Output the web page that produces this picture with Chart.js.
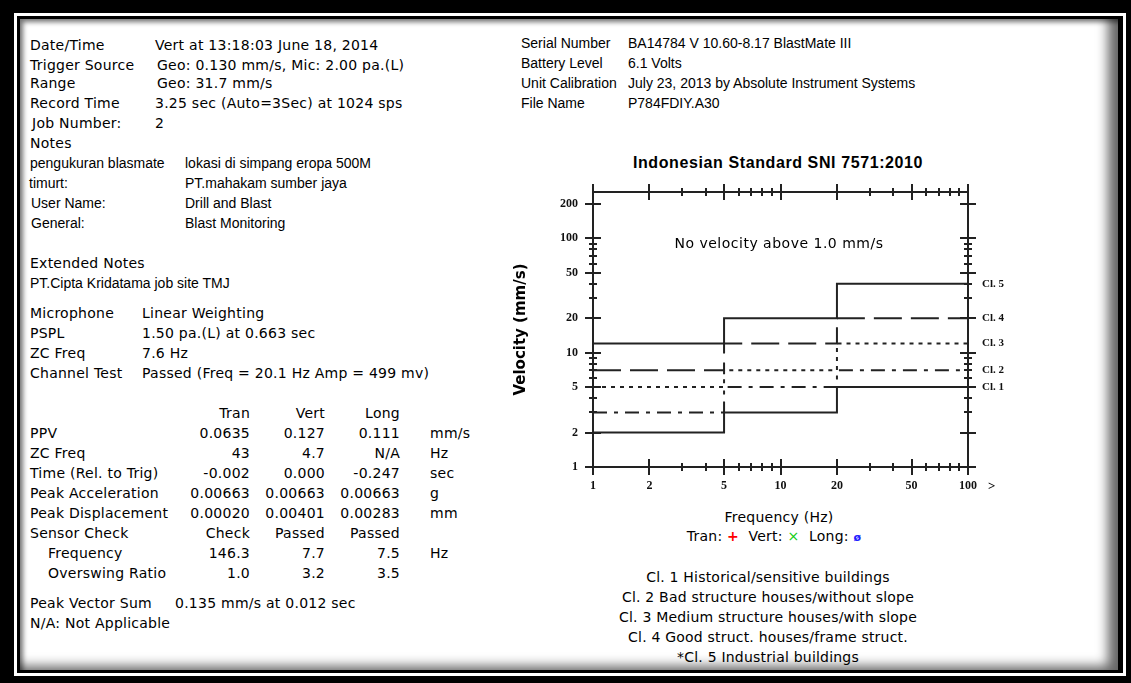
<!DOCTYPE html>
<html>
<head>
<meta charset="utf-8">
<title>BlastMate III Event Report</title>
<script src="https://cdn.jsdelivr.net/npm/chart.js@4"></script>
<style>
  html, body { margin: 0; padding: 0; }
  body { width: 1131px; height: 683px; background: #000; position: relative; overflow: hidden; color: #000; }
  .ring { position: absolute; left: 14px; top: 13px; width: 1112px; height: 663px; background: #fff; }
  .inner { position: absolute; left: 17px; top: 16px; width: 1106px; height: 657px; background: #000; }
  .panel { position: absolute; left: 20px; top: 19px; width: 1098px; height: 651px; background: #fff;
           box-shadow: inset 4px 4px 5px -1px rgba(0,0,0,0.55), inset -16px -10px 12px -6px rgba(0,0,0,0.6); }
  .r { position: absolute; white-space: nowrap; line-height: 20px; height: 20px; }
  .w { font-family: "DejaVu Sans", sans-serif; font-size: 14px; letter-spacing: 0.25px; }
  .n { font-family: "Liberation Sans", Arial, sans-serif; font-size: 14px; }
  .num { text-align: right; width: 100px; }
  .c { text-align: center; width: 400px; }
  #chartBox { position: absolute; left: 508px; top: 150px; width: 538px; height: 350px; }
  .title { font-family: "Liberation Sans", Arial, sans-serif; font-weight: bold; font-size: 16px; letter-spacing: 0.6px; }
  .serif { font-family: "Liberation Serif", serif; font-weight: bold; font-size: 13px; }
</style>
</head>
<body>
<div class="ring"></div>
<div class="inner"></div>
<div class="panel"></div>

<!-- event header -->
<div class="r w" style="left:30px;top:35px">Date/Time</div>
<div class="r w" style="left:155px;top:35px">Vert at 13:18:03 June 18, 2014</div>
<div class="r w" style="left:30px;top:55px">Trigger Source</div>
<div class="r w" style="left:157px;top:55px">Geo: 0.130 mm/s, Mic: 2.00 pa.(L)</div>
<div class="r w" style="left:30px;top:73px">Range</div>
<div class="r w" style="left:157px;top:73px">Geo: 31.7 mm/s</div>
<div class="r w" style="left:30px;top:93px">Record Time</div>
<div class="r w" style="left:155px;top:93px">3.25 sec (Auto=3Sec) at 1024 sps</div>
<div class="r w" style="left:32px;top:113px">Job Number:</div>
<div class="r w" style="left:155px;top:113px">2</div>
<div class="r w" style="left:30px;top:133px">Notes</div>
<div class="r n" style="left:30px;top:153px">pengukuran blasmate</div>
<div class="r n" style="left:185px;top:153px">lokasi di simpang eropa 500M</div>
<div class="r n" style="left:29px;top:173px">timurt:</div>
<div class="r n" style="left:185px;top:173px">PT.mahakam sumber jaya</div>
<div class="r n" style="left:31px;top:193px">User Name:</div>
<div class="r n" style="left:185px;top:193px">Drill and Blast</div>
<div class="r n" style="left:31px;top:213px">General:</div>
<div class="r n" style="left:185px;top:213px">Blast Monitoring</div>

<div class="r w" style="left:30px;top:253px">Extended Notes</div>
<div class="r n" style="left:30px;top:273px">PT.Cipta Kridatama job site TMJ</div>

<div class="r w" style="left:30px;top:303px">Microphone</div>
<div class="r w" style="left:142px;top:303px">Linear Weighting</div>
<div class="r w" style="left:30px;top:323px">PSPL</div>
<div class="r w" style="left:142px;top:323px">1.50 pa.(L) at 0.663 sec</div>
<div class="r w" style="left:30px;top:343px">ZC Freq</div>
<div class="r w" style="left:142px;top:343px">7.6 Hz</div>
<div class="r w" style="left:30px;top:363px">Channel Test</div>
<div class="r w" style="left:142px;top:363px">Passed (Freq = 20.1 Hz Amp = 499 mv)</div>

<!-- channel summary table -->
<div class="r w num" style="left:150px;top:403px">Tran</div>
<div class="r w num" style="left:225px;top:403px">Vert</div>
<div class="r w num" style="left:300px;top:403px">Long</div>

<div class="r w" style="left:30px;top:423px">PPV</div>
<div class="r w num" style="left:150px;top:423px">0.0635</div>
<div class="r w num" style="left:225px;top:423px">0.127</div>
<div class="r w num" style="left:300px;top:423px">0.111</div>
<div class="r w" style="left:430px;top:423px">mm/s</div>

<div class="r w" style="left:30px;top:443px">ZC Freq</div>
<div class="r w num" style="left:150px;top:443px">43</div>
<div class="r w num" style="left:225px;top:443px">4.7</div>
<div class="r w num" style="left:300px;top:443px">N/A</div>
<div class="r w" style="left:430px;top:443px">Hz</div>

<div class="r w" style="left:30px;top:463px">Time (Rel. to Trig)</div>
<div class="r w num" style="left:150px;top:463px">-0.002</div>
<div class="r w num" style="left:225px;top:463px">0.000</div>
<div class="r w num" style="left:300px;top:463px">-0.247</div>
<div class="r w" style="left:430px;top:463px">sec</div>

<div class="r w" style="left:30px;top:483px">Peak Acceleration</div>
<div class="r w num" style="left:150px;top:483px">0.00663</div>
<div class="r w num" style="left:225px;top:483px">0.00663</div>
<div class="r w num" style="left:300px;top:483px">0.00663</div>
<div class="r w" style="left:430px;top:483px">g</div>

<div class="r w" style="left:30px;top:503px">Peak Displacement</div>
<div class="r w num" style="left:150px;top:503px">0.00020</div>
<div class="r w num" style="left:225px;top:503px">0.00401</div>
<div class="r w num" style="left:300px;top:503px">0.00283</div>
<div class="r w" style="left:430px;top:503px">mm</div>

<div class="r w" style="left:30px;top:523px">Sensor Check</div>
<div class="r w num" style="left:150px;top:523px">Check</div>
<div class="r w num" style="left:225px;top:523px">Passed</div>
<div class="r w num" style="left:300px;top:523px">Passed</div>

<div class="r w" style="left:48px;top:543px">Frequency</div>
<div class="r w num" style="left:150px;top:543px">146.3</div>
<div class="r w num" style="left:225px;top:543px">7.7</div>
<div class="r w num" style="left:300px;top:543px">7.5</div>
<div class="r w" style="left:430px;top:543px">Hz</div>

<div class="r w" style="left:48px;top:563px">Overswing Ratio</div>
<div class="r w num" style="left:150px;top:563px">1.0</div>
<div class="r w num" style="left:225px;top:563px">3.2</div>
<div class="r w num" style="left:300px;top:563px">3.5</div>

<div class="r w" style="left:30px;top:593px">Peak Vector Sum</div>
<div class="r w" style="left:175px;top:593px">0.135 mm/s at 0.012 sec</div>
<div class="r w" style="left:30px;top:613px">N/A: Not Applicable</div>

<!-- unit information -->
<div class="r n" style="left:521px;top:33px">Serial Number</div>
<div class="r n" style="left:628px;top:33px">BA14784 V 10.60-8.17 BlastMate III</div>
<div class="r n" style="left:521px;top:53px">Battery Level</div>
<div class="r n" style="left:628px;top:53px">6.1 Volts</div>
<div class="r n" style="left:521px;top:73px">Unit Calibration</div>
<div class="r n" style="left:628px;top:73px">July 23, 2013 by Absolute Instrument Systems</div>
<div class="r n" style="left:521px;top:93px">File Name</div>
<div class="r n" style="left:628px;top:93px">P784FDIY.A30</div>

<!-- frequency analysis chart -->
<div class="r c title" style="left:578px;top:153px">Indonesian Standard SNI 7571:2010</div>
<div id="chartBox"><canvas id="chart" width="538" height="350"></canvas></div>
<div class="r c w" style="left:579px;top:233px;letter-spacing:0.5px">No velocity above 1.0 mm/s</div>
<div class="r serif" style="left:988px;top:476px">&gt;</div>
<div class="r c w" style="left:579px;top:507px">Frequency (Hz)</div>
<div class="r c w" style="left:574px;top:526px">Tran: <b style="color:#f00">+</b>&nbsp; Vert: <span style="color:#1c1">×</span>&nbsp; Long: <span style="color:#22f;font-size:11px;font-weight:bold">ø</span></div>
<div class="r c w" style="left:568px;top:567px;letter-spacing:0.2px">Cl. 1 Historical/sensitive buildings</div>
<div class="r c w" style="left:568px;top:587px;letter-spacing:0.2px">Cl. 2 Bad structure houses/without slope</div>
<div class="r c w" style="left:568px;top:607px;letter-spacing:0.2px">Cl. 3 Medium structure houses/with slope</div>
<div class="r c w" style="left:568px;top:627px;letter-spacing:0.2px">Cl. 4 Good struct. houses/frame struct.</div>
<div class="r c w" style="left:568px;top:647px;letter-spacing:0.2px">*Cl. 5 Industrial buildings</div>

<script>
// Frequency bands of the SNI 7571:2010 limits (Hz) and the velocity limit per class (mm/s)
const bandFreqHz = [1, 5, 20, 100];
const class1Limit = [2, 3, 5, 5];
const class2Limit = [3, 5, 7, 7];
const class3Limit = [5, 7, 12, 12];
const class4Limit = [7, 12, 20, 20];
const class5Limit = [12, 20, 40, 40];
const classNames = ['Cl. 1', 'Cl. 2', 'Cl. 3', 'Cl. 4', 'Cl. 5'];

// Axis ranges and tick positions
const freqMin = 1, freqMax = 100;
const velMin = 1, velMax = 254;
const freqTickLabels = [1, 2, 5, 10, 20, 50, 100];
const velTickLabels = [1, 2, 5, 10, 20, 50, 100, 200];
const freqMajorMarks = [1, 2, 5, 10, 20, 50, 100];
const freqMinorMarks = [3, 4, 6, 7, 8, 9, 30, 40, 60, 70, 80, 90];
const velMajorMarks = [1, 2, 5, 10, 20, 50, 100, 200];
const velMinorMarks = [3, 4, 6, 7, 8, 9, 30, 40, 60, 70, 80, 90];

const classLimits = [class1Limit, class2Limit, class3Limit, class4Limit, class5Limit];
const classDashes = [[], [14, 7, 4, 7], [4, 5], [28, 9], []];
const lineInk = '#222';

const datasets = classLimits.map((lim, i) => ({
  label: classNames[i],
  data: bandFreqHz.map((f, j) => ({ x: f, y: lim[j] })),
  stepped: true,
  borderColor: lineInk,
  borderWidth: 2,
  borderDash: classDashes[i],
  pointRadius: 0,
  fill: false
}));

// Limit value in the last band, where each class label sits on the right axis
const classLabelValues = classLimits.map(lim => lim[lim.length - 1]);

const tickFont = { family: 'Liberation Serif', weight: 'bold', size: 12 };

// Frame with tick marks crossing both sides of every axis
const crossTicks = {
  id: 'crossTicks',
  afterDatasetsDraw(chart) {
    const { ctx, chartArea: a, scales: { x, y } } = chart;
    ctx.save();
    ctx.strokeStyle = lineInk;
    ctx.lineWidth = 2;
    ctx.setLineDash([]);
    ctx.strokeRect(a.left, a.top, a.right - a.left, a.bottom - a.top);
    const seg = (x1, y1, x2, y2) => { ctx.beginPath(); ctx.moveTo(x1, y1); ctx.lineTo(x2, y2); ctx.stroke(); };
    const xMark = (v, h) => {
      const px = Math.round(x.getPixelForValue(v));
      seg(px, a.bottom - h, px, a.bottom + h);
      seg(px, a.top - h, px, a.top + h);
    };
    const yMark = (v, h) => {
      const py = Math.round(y.getPixelForValue(v));
      seg(a.left - h, py, a.left + h, py);
      seg(a.right - h, py, a.right + h, py);
    };
    freqMajorMarks.forEach(v => xMark(v, 8));
    freqMinorMarks.forEach(v => xMark(v, 4));
    velMajorMarks.forEach(v => yMark(v, 8));
    velMinorMarks.forEach(v => yMark(v, 4));
    ctx.restore();
  }
};

new Chart(document.getElementById('chart'), {
  type: 'line',
  data: { datasets },
  options: {
    responsive: false,
    animation: false,
    events: [],
    layout: { padding: { top: 42, right: 0, bottom: 0, left: 0 } },
    plugins: { legend: { display: false }, tooltip: { enabled: false }, title: { display: false } },
    scales: {
      x: {
        type: 'logarithmic',
        position: 'bottom',
        min: freqMin, max: freqMax,
        grid: { display: false, drawTicks: false },
        border: { display: false },
        afterBuildTicks: s => { s.ticks = freqTickLabels.map(v => ({ value: v })); },
        afterFit: s => { s.height = 33; },
        ticks: { autoSkip: false, maxRotation: 0, padding: 12, color: '#111', font: tickFont,
                 callback: v => String(v) }
      },
      y: {
        type: 'logarithmic',
        position: 'left',
        min: velMin, max: velMax,
        grid: { display: false, drawTicks: false },
        border: { display: false },
        afterBuildTicks: s => { s.ticks = velTickLabels.map(v => ({ value: v })); },
        afterFit: s => { s.width = 85; },
        title: { display: true, text: 'Velocity (mm/s)', color: '#000',
                 font: { family: 'DejaVu Sans', weight: 'bold', size: 15 }, padding: { top: 4, bottom: 4 } },
        ticks: { autoSkip: false, padding: 15, color: '#111', font: tickFont, callback: v => String(v) }
      },
      y2: {
        type: 'logarithmic',
        position: 'right',
        min: velMin, max: velMax,
        grid: { display: false, drawTicks: false },
        border: { display: false },
        afterBuildTicks: s => { s.ticks = classLabelValues.map(v => ({ value: v })); },
        afterFit: s => { s.width = 78; },
        ticks: { autoSkip: false, padding: 14, color: '#111',
                 font: { family: 'Liberation Serif', weight: 'bold', size: 11 },
                 callback: (v, i) => classNames[i] }
      }
    }
  },
  plugins: [crossTicks]
});
</script>
</body>
</html>
